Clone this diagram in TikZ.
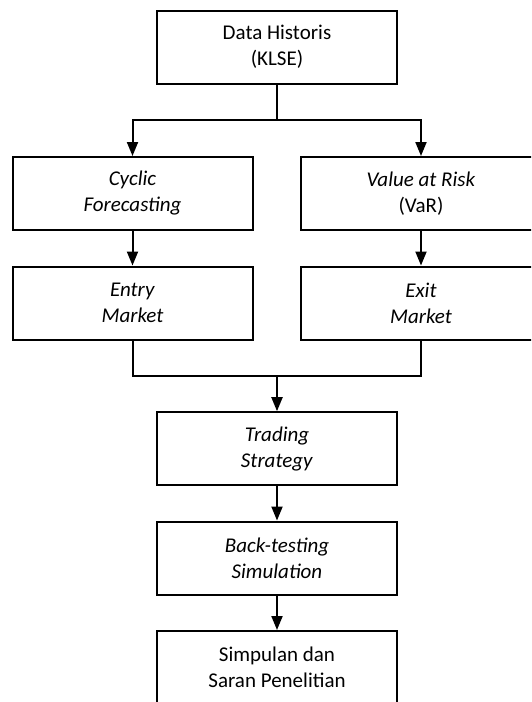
\documentclass[tikz,border=0pt]{standalone}
\usepackage{fontspec}
\setmainfont{Carlito}
\usetikzlibrary{arrows.meta}
\begin{document}
\begin{tikzpicture}[x=0.5pt,y=-0.5pt,
  box/.style={draw,line width=1pt,minimum width=120pt,minimum height=36.5pt,align=center,inner sep=0pt,font=\fontsize{10.5}{13}\selectfont},
  conn/.style={line width=1pt},
  arr/.style={conn,-{Triangle[width=5.5pt,length=7pt]}}]
\useasboundingbox (0,0) rectangle (531,702);
\clip (0,0) rectangle (531,702);
\node[box] (top) at (277,47) {Data Historis\\(KLSE)};
\node[box] (cyc) at (132.5,193.5) {\textit{Cyclic}\\\textit{Forecasting}};
\node[box] (var) at (421,193.5) {\textit{Value at Risk}\\(VaR)};
\node[box] (entry) at (132.5,303) {\textit{Entry}\\\textit{Market}};
\node[box] (exit) at (421,303) {\textit{Exit}\\\textit{Market}};
\node[box] (trade) at (277,448.7) {\textit{Trading}\\\textit{Strategy}};
\node[box] (back) at (277,558) {\textit{Back-testing}\\\textit{Simulation}};
\node[box] (simp) at (277,667.5) {Simpulan dan\\Saran Penelitian};
\coordinate (j1) at (277,120);
\coordinate (j2) at (277,376);
\draw[conn] (top.south) -- (j1);
\draw[arr] (j1) -| (cyc.north);
\draw[arr] (j1) -| (var.north);
\draw[arr] (cyc.south) -- (entry.north);
\draw[arr] (var.south) -- (exit.north);
\draw[conn] (entry.south) |- (j2);
\draw[conn] (exit.south) |- (j2);
\draw[arr] (j2) -- (trade.north);
\draw[arr] (trade.south) -- (back.north);
\draw[arr] (back.south) -- (simp.north);
\end{tikzpicture}
\end{document}
